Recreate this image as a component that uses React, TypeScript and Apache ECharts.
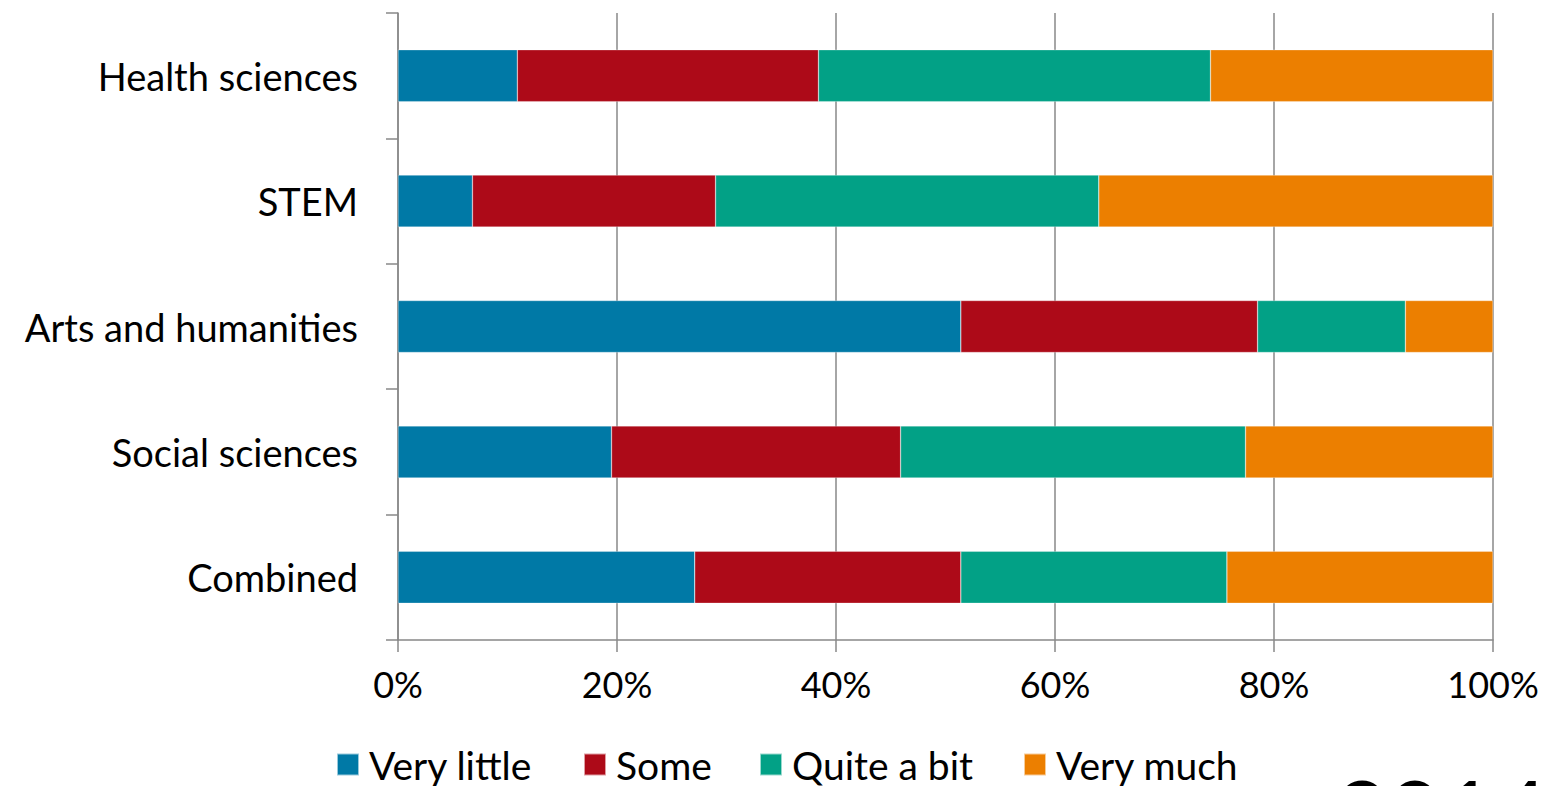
import React, { useEffect, useRef } from "react";
import * as echarts from "echarts";

const categories = ["Health sciences", "STEM", "Arts and humanities", "Social sciences", "Combined"];
const veryLittle = [10.9, 6.8, 51.4, 19.5, 27.1];
const some = [27.5, 22.2, 27.1, 26.4, 24.3];
const quiteABit = [35.8, 35.0, 13.5, 31.5, 24.3];
const veryMuch = [25.8, 36.0, 8.0, 22.6, 24.3];
const seriesNames = ["Very little", "Some", "Quite a bit", "Very much"];
const colors = ["#0079A6", "#AD0A18", "#02A186", "#EC7F00"];
const legendLefts = [336, 583, 759, 1023];
const FONT = "Lato";

export default function App() {
  const ref = useRef<HTMLDivElement>(null);
  useEffect(() => {
    if (!ref.current) return;
    const chart = echarts.init(ref.current, undefined, { renderer: "svg" });
    const data = [veryLittle, some, quiteABit, veryMuch];
    chart.setOption({
      animation: false,
      textStyle: { fontFamily: FONT },
      grid: { left: 398, right: 54, top: 13, bottom: 146, containLabel: false },
      legend: seriesNames.map((name, i) => ({
        left: legendLefts[i],
        top: 745,
        padding: 0,
        itemWidth: 22,
        itemHeight: 22,
        itemGap: 0,
        icon: "rect",
        textStyle: { fontSize: 39, color: "#000", fontFamily: FONT, padding: [0, 0, 0, 5] },
        data: [name],
      })),
      xAxis: {
        type: "value",
        min: 0,
        max: 100,
        interval: 20,
        axisLine: { show: true, lineStyle: { color: "#888", width: 1.5 } },
        axisTick: { show: true, length: 12, lineStyle: { color: "#888", width: 1.5 } },
        splitLine: { show: true, lineStyle: { color: "#888", width: 1.5 } },
        axisLabel: { formatter: "{value}%", fontSize: 36, color: "#000", margin: 26, fontFamily: FONT },
      },
      yAxis: {
        type: "category",
        inverse: true,
        data: categories,
        axisLine: { show: true, lineStyle: { color: "#888", width: 1.5 } },
        axisTick: { show: true, length: 12, lineStyle: { color: "#888", width: 1.5 } },
        axisLabel: { fontSize: 38, color: "#000", margin: 40, fontFamily: FONT },
      },
      series: seriesNames.map((name, i) => ({
        name,
        type: "bar",
        stack: "total",
        barWidth: 52,
        data: data[i],
        itemStyle: { color: colors[i], borderColor: "rgba(255,255,255,0.6)", borderWidth: 0.5 },
      })),
      graphic: [
        {
          type: "text",
          left: 1335,
          top: 764,
          style: { text: "2014", fontSize: 92, fontFamily: FONT, fill: "#000" },
        },
      ],
    });
    return () => chart.dispose();
  }, []);
  return <div ref={ref} style={{ width: 1547, height: 786, position: "absolute", left: 0, top: 0 }} />;
}
